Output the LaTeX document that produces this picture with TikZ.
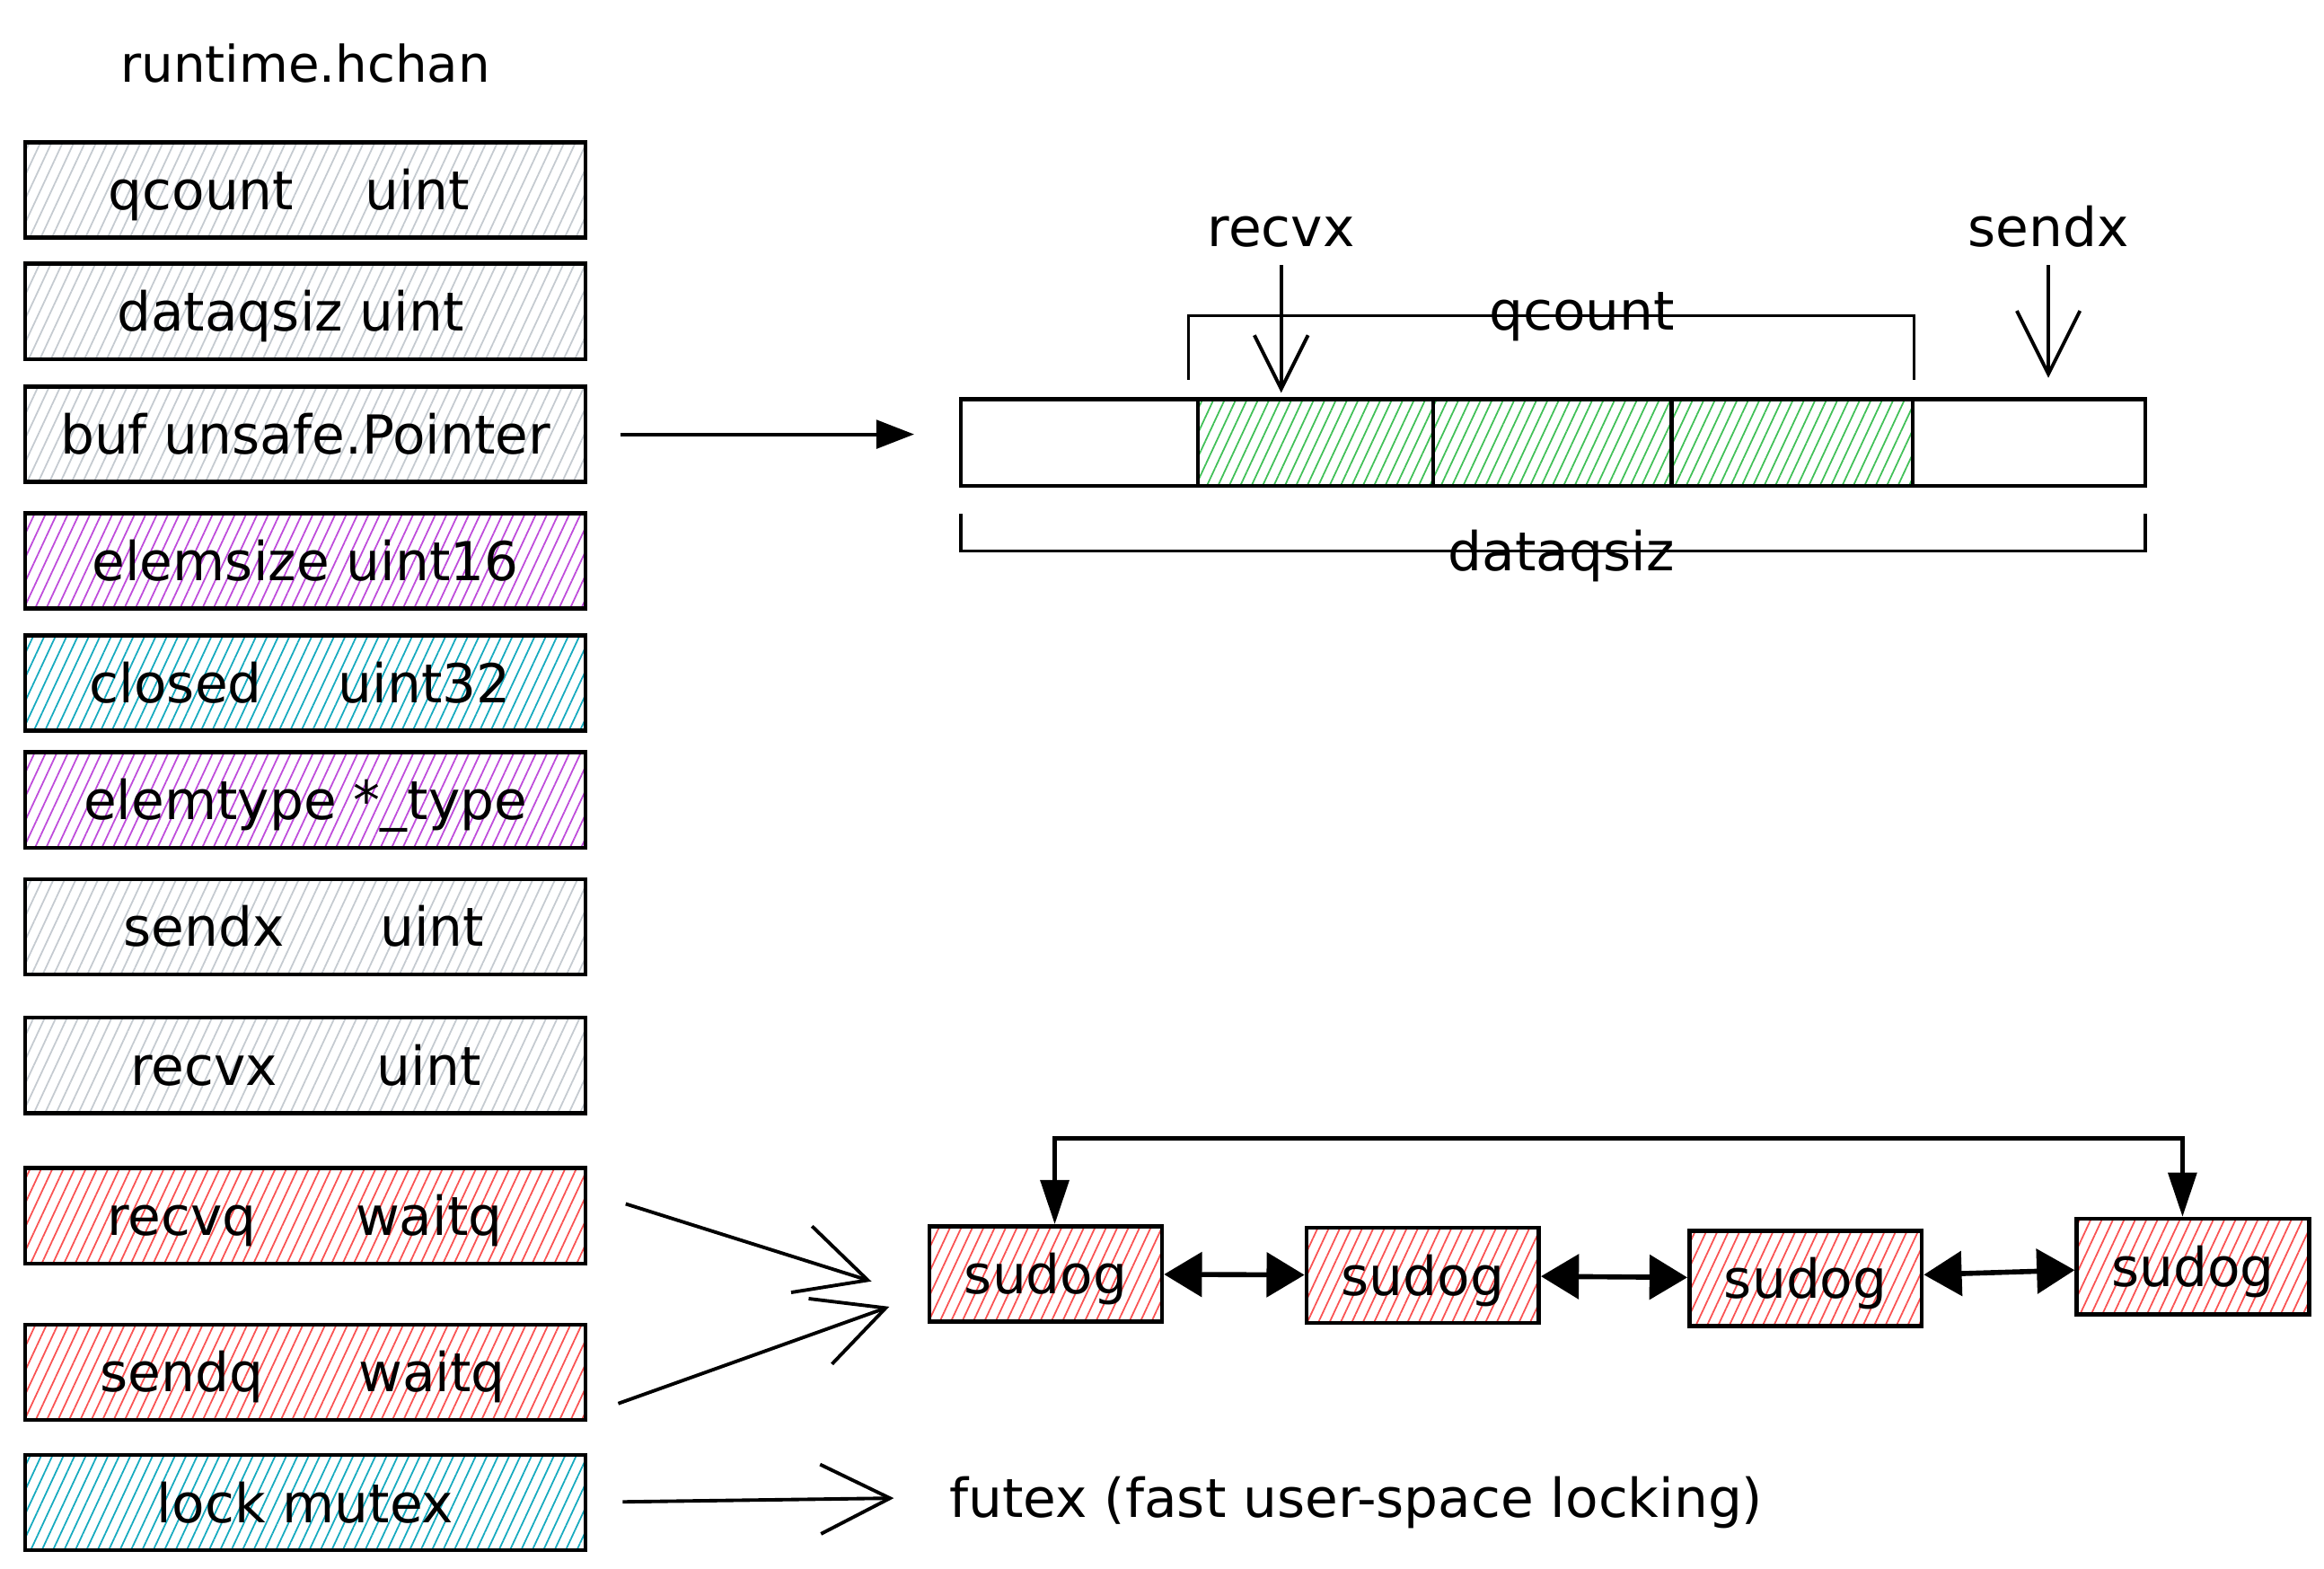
\documentclass[tikz,border=0pt]{standalone}
\usepackage{fontspec}
\setmainfont{DejaVu Sans}
\usetikzlibrary{arrows.meta,patterns.meta}
\def\U{0.01659cm}
\definecolor{hgray}{HTML}{C4CAD0}
\definecolor{hpurple}{HTML}{BE4BDB}
\definecolor{hcyan}{HTML}{15AABF}
\definecolor{hred}{HTML}{FA5252}
\definecolor{hgreen}{HTML}{40C057}
\tikzset{
  txt/.style={font=\fontsize{17}{20}\selectfont, inner sep=0pt, text height=14.5pt, text depth=2pt},
  fieldbox/.style={draw=black, line width=1.3pt, minimum width=376*\U, minimum height=64*\U, inner sep=0pt},
  cellbox/.style={draw=black, line width=1.3pt, minimum height=58*\U, inner sep=0pt},
  sudogbox/.style={draw=black, line width=1.3pt, minimum width=156*\U, minimum height=64*\U, inner sep=0pt, font=\fontsize{17}{20}\selectfont, text height=14.5pt, text depth=2pt, hatch=hred},
  hatch/.style={pattern={Lines[angle=65,distance=3.2pt,line width=0.5pt]}, pattern color=#1},
  bracket/.style={draw=black, line width=0.9pt},
  barb/.style={draw=black, line width=1.1pt, -{Straight Barb[length=#1, width=#1]}},
  barb/.default=20pt,
  solidarrow/.style={draw=black, line width=1.1pt, -{Triangle[length=12pt, width=9pt]}},
  dblarrow/.style={draw=black, line width=1.6pt, {Triangle[length=12pt, width=14pt]}-{Triangle[length=12pt, width=14pt]}},
  looparrow/.style={draw=black, line width=1.3pt, {Triangle[length=14pt, width=9pt]}-{Triangle[length=14pt, width=9pt]}}
}
\begin{document}
\begin{tikzpicture}[x=0.01659cm, y=-0.01659cm]
\useasboundingbox (0,0) rectangle (1560,1052.5);

% title
\node[txt, font=\fontsize{16}{19}\selectfont] (title) at (205,42) {runtime.hchan};

% struct fields
\node[fieldbox, hatch=hgray] (f1) at (205,127.5) {};
\node[txt] (f1a) at (135,127.5) {qcount};
\node[txt] (f1b) at (280,127.5) {uint};
\node[fieldbox, hatch=hgray] (f2) at (205,209) {};
\node[txt] (f2a) at (195,209) {dataqsiz uint};
\node[fieldbox, hatch=hgray] (f3) at (205,291.5) {};
\node[txt] (f3a) at (205,291.5) {buf unsafe.Pointer};
\node[fieldbox, hatch=hpurple] (f4) at (205,376.5) {};
\node[txt] (f4a) at (205,376.5) {elemsize uint16};
\node[fieldbox, hatch=hcyan] (f5) at (205,458.5) {};
\node[txt] (f5a) at (118,458.5) {closed};
\node[txt] (f5b) at (285,458.5) {uint32};
\node[fieldbox, hatch=hpurple] (f6) at (205,537) {};
\node[txt] (f6a) at (205,537) {elemtype *\_type};
\node[fieldbox, hatch=hgray] (f7) at (205,622) {};
\node[txt] (f7a) at (137,622) {sendx};
\node[txt] (f7b) at (290,622) {uint};
\node[fieldbox, hatch=hgray] (f8) at (205,715) {};
\node[txt] (f8a) at (137,715) {recvx};
\node[txt] (f8b) at (288,715) {uint};
\node[fieldbox, hatch=hred] (f9) at (205,816) {};
\node[txt] (f9a) at (122,816) {recvq};
\node[txt] (f9b) at (288,816) {waitq};
\node[fieldbox, hatch=hred] (f10) at (205,921) {};
\node[txt] (f10a) at (122,921) {sendq};
\node[txt] (f10b) at (290,921) {waitq};
\node[fieldbox, hatch=hcyan] (f11) at (205,1008.5) {};
\node[txt] (f11a) at (205,1008.5) {lock mutex};

% ring buffer
\node[cellbox, minimum width=159*\U] (c1) at (724.5,297) {};
\node[cellbox, minimum width=158*\U, hatch=hgreen] (c2) at (883,297) {};
\node[cellbox, minimum width=160*\U, hatch=hgreen] (c3) at (1042,297) {};
\node[cellbox, minimum width=162*\U, hatch=hgreen] (c4) at (1203,297) {};
\node[cellbox, minimum width=156*\U] (c5) at (1362,297) {};

% buf pointer arrow
\draw[solidarrow, shorten <=22*\U, shorten >=30*\U] (f3.east) -- (f3.east -| c1.west);

% qcount bracket
\coordinate (qa) at (798,255);
\coordinate (qb) at (1285,255);
\draw[bracket] (qa) -- (798,212) -- (1285,212) -- (qb);
\node[txt] (qlbl) at (1062,208) {qcount};

% dataqsiz bracket
\coordinate (da) at (645,345);
\coordinate (db) at (1440,345);
\draw[bracket] (da) -- (645,370) -- (1440,370) -- (db);
\node[txt] (dlbl) at (1048,370) {dataqsiz};

% recvx / sendx pointers
\node[txt] (rx) at (860,152) {recvx};
\draw[barb=17pt, shorten <=8*\U, shorten >=3*\U] (rx.south) -- (rx.south |- c2.north);
\node[txt] (sx) at (1375,152) {sendx};
\draw[barb=20pt, shorten <=8*\U, shorten >=13*\U] (sx.south) -- (sx.south |- c5.north);

% sudog list
\node[sudogbox] (s1) at (702,855) {sudog};
\node[sudogbox] (s2) at (955,856) {sudog};
\node[sudogbox] (s3) at (1212,858) {sudog};
\node[sudogbox] (s4) at (1472,850) {sudog};
\draw[dblarrow] (s1) -- (s2);
\draw[dblarrow] (s2) -- (s3);
\draw[dblarrow] (s3) -- (s4);
\coordinate (t1) at (708,764);
\coordinate (t2) at (1465,764);
\draw[looparrow] (t1 |- s1.north) -- (t1) -- (t2) -- (t2 |- s4.north);

% queues to sudog
\coordinate (rqA) at (420,808);
\coordinate (rqB) at (585,860);
\draw[barb=22pt] (rqA) -- (rqB);
\coordinate (sqA) at (415,942);
\coordinate (sqB) at (597,877);
\draw[barb=22pt] (sqA) -- (sqB);

% lock -> futex
\node[txt, anchor=west] (futex) at (637,1005) {futex (fast user-space locking)};
\coordinate (lkA) at (418,1008);
\draw[barb=22pt, shorten >=37*\U] (lkA) -- (futex.west);
\end{tikzpicture}
\end{document}
